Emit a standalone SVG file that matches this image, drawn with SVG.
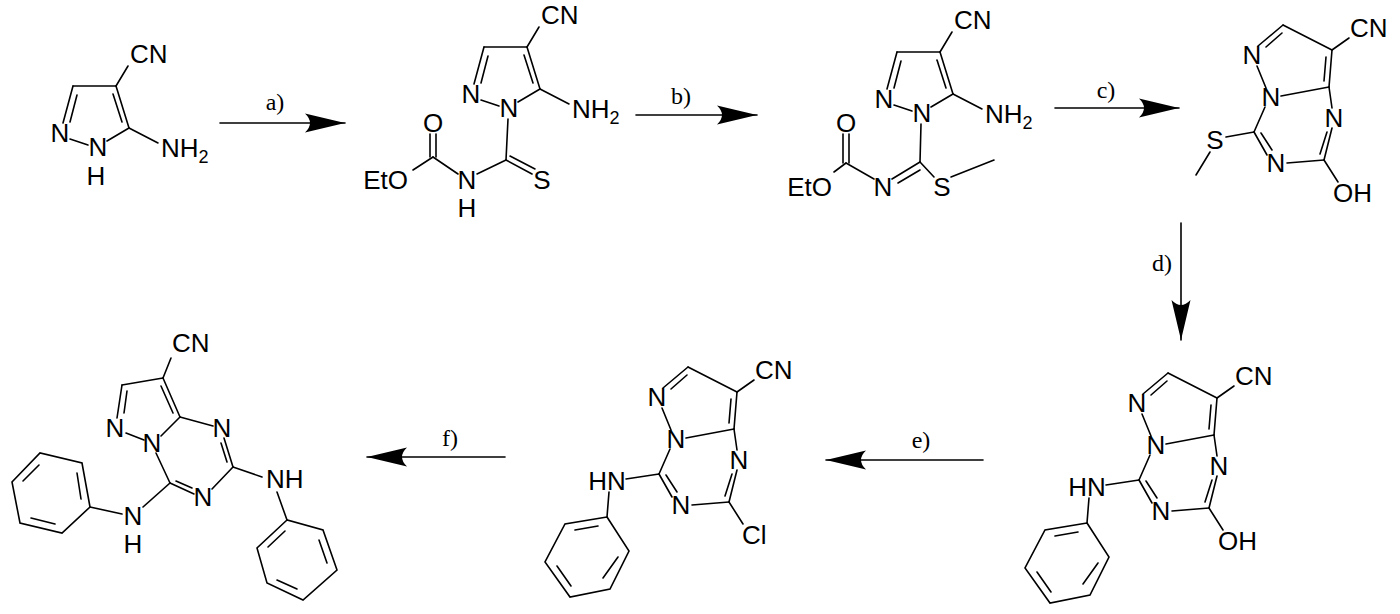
<svg xmlns="http://www.w3.org/2000/svg" width="1400" height="614" viewBox="0 0 1400 614">
<style>
line,path.b{stroke:#000;stroke-width:1.6;fill:none;stroke-linecap:round}
text{font-family:"Liberation Sans",Arial,sans-serif;font-size:26px;fill:#000}
text.m{text-anchor:middle}
text.r{font-family:"Liberation Serif","Times New Roman",serif;font-size:24px;text-anchor:middle}
.conn line{stroke-width:1.6}
</style>
<defs>
<marker id="ah" markerUnits="userSpaceOnUse" viewBox="-42 -11 44 22" markerWidth="44" markerHeight="22" refX="0" refY="0" orient="auto">
<path d="M0,0 L-40,-9.5 Q-30,0 -40,9.5 Z" fill="#000"/>
</marker>
</defs>
<rect width="1400" height="614" fill="#fff"/>

<g id="conn" class="conn">
<line x1="220" y1="123" x2="345" y2="123" marker-end="url(#ah)"/>
<text class="r" x="275" y="110">a)</text>
<line x1="636" y1="115" x2="757" y2="115" marker-end="url(#ah)"/>
<text class="r" x="681" y="104">b)</text>
<line x1="1055" y1="108" x2="1179" y2="108" marker-end="url(#ah)"/>
<text class="r" x="1106" y="98">c)</text>
<line x1="1181" y1="223" x2="1181" y2="340" marker-end="url(#ah)"/>
<text class="r" x="1162" y="271">d)</text>
<line x1="983" y1="460" x2="826" y2="460" marker-end="url(#ah)"/>
<text class="r" x="921" y="448">e)</text>
<line x1="505" y1="457" x2="367" y2="457" marker-end="url(#ah)"/>
<text class="r" x="450" y="446">f)</text>
</g>

<!-- molecule 1 -->
<g id="m1">
<line x1="63" y1="123" x2="73" y2="86"/><line x1="77" y1="95" x2="70" y2="122"/>
<line x1="73" y1="86" x2="116" y2="86"/>
<line x1="116" y1="86" x2="129" y2="128"/><line x1="113" y1="94" x2="122" y2="122"/>
<line x1="129" y1="128" x2="107" y2="141"/>
<line x1="88" y1="145" x2="70" y2="139"/>
<line x1="116" y1="86" x2="128" y2="66"/>
<line x1="129" y1="128" x2="158" y2="143"/>
<text x="130" y="63">CN</text>
<text x="161" y="157">NH<tspan font-size="18" dy="6">2</tspan></text>
<text class="m" x="98" y="156">N</text>
<text class="m" x="96" y="185">H</text>
<text class="m" x="60" y="142">N</text>
</g>

<!-- molecule 2 -->
<g id="m2" transform="translate(411,-39)">
<line x1="63" y1="123" x2="73" y2="86"/><line x1="77" y1="95" x2="70" y2="122"/>
<line x1="73" y1="86" x2="116" y2="86"/>
<line x1="116" y1="86" x2="129" y2="128"/><line x1="113" y1="94" x2="122" y2="122"/>
<line x1="129" y1="128" x2="107" y2="141"/>
<line x1="88" y1="145" x2="70" y2="139"/>
<line x1="116" y1="86" x2="128" y2="66"/>
<line x1="129" y1="128" x2="158" y2="143"/>
<line x1="97" y1="158" x2="95" y2="199"/>
<line x1="95" y1="199" x2="121" y2="213"/><line x1="99" y1="195" x2="124" y2="208"/>
<line x1="95" y1="199" x2="66" y2="213"/>
<line x1="47" y1="213" x2="22" y2="196"/>
<line x1="19" y1="196" x2="19" y2="173"/><line x1="25" y1="196" x2="25" y2="173"/>
<line x1="22" y1="196" x2="2" y2="209"/>
<text x="130" y="63">CN</text>
<text x="161" y="157">NH<tspan font-size="18" dy="6">2</tspan></text>
<text class="m" x="98" y="156">N</text>
<text class="m" x="60" y="142">N</text>
<text class="m" x="56" y="228">N</text>
<text class="m" x="56" y="256">H</text>
<text class="m" x="22" y="171">O</text>
<text class="m" x="131" y="228">S</text>
<text x="-3" y="228" text-anchor="end">EtO</text>
</g>

<!-- molecule 3 -->
<g id="m3" transform="translate(824,-34)">
<line x1="63" y1="123" x2="73" y2="86"/><line x1="77" y1="95" x2="70" y2="122"/>
<line x1="73" y1="86" x2="116" y2="86"/>
<line x1="116" y1="86" x2="129" y2="128"/><line x1="113" y1="94" x2="122" y2="122"/>
<line x1="129" y1="128" x2="107" y2="141"/>
<line x1="88" y1="145" x2="70" y2="139"/>
<line x1="116" y1="86" x2="128" y2="66"/>
<line x1="129" y1="128" x2="158" y2="143"/>
<line x1="97" y1="158" x2="96" y2="196"/>
<line x1="96" y1="196" x2="68" y2="213"/><line x1="96" y1="204" x2="74" y2="217"/>
<line x1="96" y1="196" x2="110" y2="211"/>
<line x1="127" y1="211" x2="170" y2="194"/>
<line x1="50" y1="213" x2="22" y2="197"/>
<line x1="19" y1="197" x2="19" y2="168"/><line x1="25" y1="197" x2="25" y2="168"/>
<line x1="22" y1="197" x2="10" y2="206"/>
<text x="130" y="63">CN</text>
<text x="161" y="157">NH<tspan font-size="18" dy="6">2</tspan></text>
<text class="m" x="98" y="156">N</text>
<text class="m" x="60" y="142">N</text>
<text class="m" x="59" y="230">N</text>
<text class="m" x="118" y="230">S</text>
<text class="m" x="22" y="166">O</text>
<text x="8" y="230" text-anchor="end">EtO</text>
</g>

<!-- molecule 4 -->
<g id="m4">
<line x1="1258" y1="46" x2="1283" y2="25"/><line x1="1266" y1="47" x2="1282" y2="33"/>
<line x1="1283" y1="25" x2="1332" y2="50"/>
<line x1="1332" y1="50" x2="1329" y2="87"/><line x1="1326" y1="57" x2="1324" y2="81"/>
<line x1="1329" y1="87" x2="1281" y2="96"/>
<line x1="1266" y1="88" x2="1257" y2="66"/>
<line x1="1332" y1="50" x2="1349" y2="38"/>
<line x1="1329" y1="87" x2="1332" y2="108"/>
<line x1="1332" y1="128" x2="1324" y2="160"/><line x1="1327" y1="132" x2="1320" y2="154"/>
<line x1="1324" y1="160" x2="1287" y2="163"/>
<line x1="1267" y1="155" x2="1254" y2="132"/><line x1="1272" y1="150" x2="1261" y2="133"/>
<line x1="1254" y1="132" x2="1265" y2="107"/>
<line x1="1324" y1="160" x2="1338" y2="182"/>
<line x1="1254" y1="132" x2="1226" y2="137"/>
<line x1="1210" y1="152" x2="1196" y2="175"/>
<text x="1350" y="37">CN</text>
<text class="m" x="1252" y="64">N</text>
<text class="m" x="1271" y="106">N</text>
<text class="m" x="1334" y="127">N</text>
<text class="m" x="1276" y="172">N</text>
<text class="m" x="1215" y="149">S</text>
<text x="1333" y="202">OH</text>
</g>

<!-- molecule 5 -->
<g id="m5" transform="translate(-115,348)">
<line x1="1258" y1="46" x2="1283" y2="25"/><line x1="1266" y1="47" x2="1282" y2="33"/>
<line x1="1283" y1="25" x2="1332" y2="50"/>
<line x1="1332" y1="50" x2="1329" y2="87"/><line x1="1326" y1="57" x2="1324" y2="81"/>
<line x1="1329" y1="87" x2="1281" y2="96"/>
<line x1="1266" y1="88" x2="1257" y2="66"/>
<line x1="1332" y1="50" x2="1349" y2="38"/>
<line x1="1329" y1="87" x2="1332" y2="108"/>
<line x1="1332" y1="128" x2="1324" y2="160"/><line x1="1327" y1="132" x2="1320" y2="154"/>
<line x1="1324" y1="160" x2="1287" y2="163"/>
<line x1="1267" y1="155" x2="1254" y2="132"/><line x1="1272" y1="150" x2="1261" y2="133"/>
<line x1="1254" y1="132" x2="1265" y2="107"/>
<line x1="1324" y1="160" x2="1338" y2="182"/>
<line x1="1254" y1="132" x2="1221" y2="137"/>
<line x1="1204" y1="150" x2="1202" y2="175"/>
<path class="b" d="M1202,175 L1160,182 L1140,220 L1165,255 L1205,247 L1224,209 Z"/>
<line x1="1193" y1="184" x2="1170" y2="188"/>
<line x1="1152" y1="224" x2="1166" y2="244"/>
<line x1="1198" y1="236" x2="1213" y2="215"/>
<text x="1350" y="37">CN</text>
<text class="m" x="1252" y="64">N</text>
<text class="m" x="1271" y="106">N</text>
<text class="m" x="1334" y="127">N</text>
<text class="m" x="1276" y="172">N</text>
<text class="m" x="1202" y="148">HN</text>
<text x="1333" y="202">OH</text>
</g>

<!-- molecule 6 -->
<g id="m6" transform="translate(-595,342)">
<line x1="1258" y1="46" x2="1283" y2="25"/><line x1="1266" y1="47" x2="1282" y2="33"/>
<line x1="1283" y1="25" x2="1332" y2="50"/>
<line x1="1332" y1="50" x2="1329" y2="87"/><line x1="1326" y1="57" x2="1324" y2="81"/>
<line x1="1329" y1="87" x2="1281" y2="96"/>
<line x1="1266" y1="88" x2="1257" y2="66"/>
<line x1="1332" y1="50" x2="1349" y2="38"/>
<line x1="1329" y1="87" x2="1332" y2="108"/>
<line x1="1332" y1="128" x2="1324" y2="160"/><line x1="1327" y1="132" x2="1320" y2="154"/>
<line x1="1324" y1="160" x2="1287" y2="163"/>
<line x1="1267" y1="155" x2="1254" y2="132"/><line x1="1272" y1="150" x2="1261" y2="133"/>
<line x1="1254" y1="132" x2="1265" y2="107"/>
<line x1="1324" y1="160" x2="1338" y2="182"/>
<line x1="1254" y1="132" x2="1221" y2="137"/>
<line x1="1204" y1="150" x2="1202" y2="175"/>
<path class="b" d="M1202,175 L1160,182 L1140,220 L1165,255 L1205,247 L1224,209 Z"/>
<line x1="1193" y1="184" x2="1170" y2="188"/>
<line x1="1152" y1="224" x2="1166" y2="244"/>
<line x1="1198" y1="236" x2="1213" y2="215"/>
<text x="1350" y="37">CN</text>
<text class="m" x="1252" y="64">N</text>
<text class="m" x="1271" y="106">N</text>
<text class="m" x="1334" y="127">N</text>
<text class="m" x="1276" y="172">N</text>
<text class="m" x="1202" y="148">HN</text>
<text x="1337" y="202">Cl</text>
</g>

<!-- molecule 7 -->
<g id="m7">
<line x1="117" y1="418" x2="122" y2="385"/><line x1="127" y1="391" x2="124" y2="413"/>
<line x1="122" y1="385" x2="163" y2="378"/>
<line x1="163" y1="378" x2="180" y2="417"/><line x1="161" y1="386" x2="173" y2="413"/>
<line x1="180" y1="417" x2="161" y2="436"/>
<line x1="144" y1="440" x2="126" y2="433"/>
<line x1="163" y1="378" x2="171" y2="358"/>
<line x1="180" y1="417" x2="213" y2="426"/>
<line x1="224" y1="438" x2="233" y2="467"/><line x1="221" y1="443" x2="227" y2="462"/>
<line x1="233" y1="467" x2="212" y2="489"/>
<line x1="194" y1="494" x2="170" y2="483"/><line x1="192" y1="488" x2="176" y2="481"/>
<line x1="170" y1="483" x2="156" y2="453"/>
<line x1="233" y1="467" x2="262" y2="477"/>
<line x1="277" y1="492" x2="287" y2="520"/>
<path class="b" d="M287,520 L257,548 L267,583 L303,600 L337,570 L323,530 Z"/>
<line x1="319" y1="540" x2="327" y2="563"/>
<line x1="277" y1="580" x2="297" y2="589"/>
<line x1="268" y1="547" x2="285" y2="531"/>
<line x1="170" y1="483" x2="143" y2="507"/>
<line x1="122" y1="514" x2="90" y2="507"/>
<path class="b" d="M90,507 L82,463 L40,453 L12,482 L20,523 L62,533 Z"/>
<line x1="81" y1="499" x2="77" y2="473"/>
<line x1="39" y1="465" x2="23" y2="481"/>
<line x1="31" y1="518" x2="55" y2="524"/>
<text x="172" y="352">CN</text>
<text class="m" x="115" y="437">N</text>
<text class="m" x="152" y="452">N</text>
<text class="m" x="222" y="437">N</text>
<text class="m" x="203" y="506">N</text>
<text x="266" y="488">NH</text>
<text class="m" x="133" y="525">N</text>
<text class="m" x="133" y="553">H</text>
</g>
</svg>
